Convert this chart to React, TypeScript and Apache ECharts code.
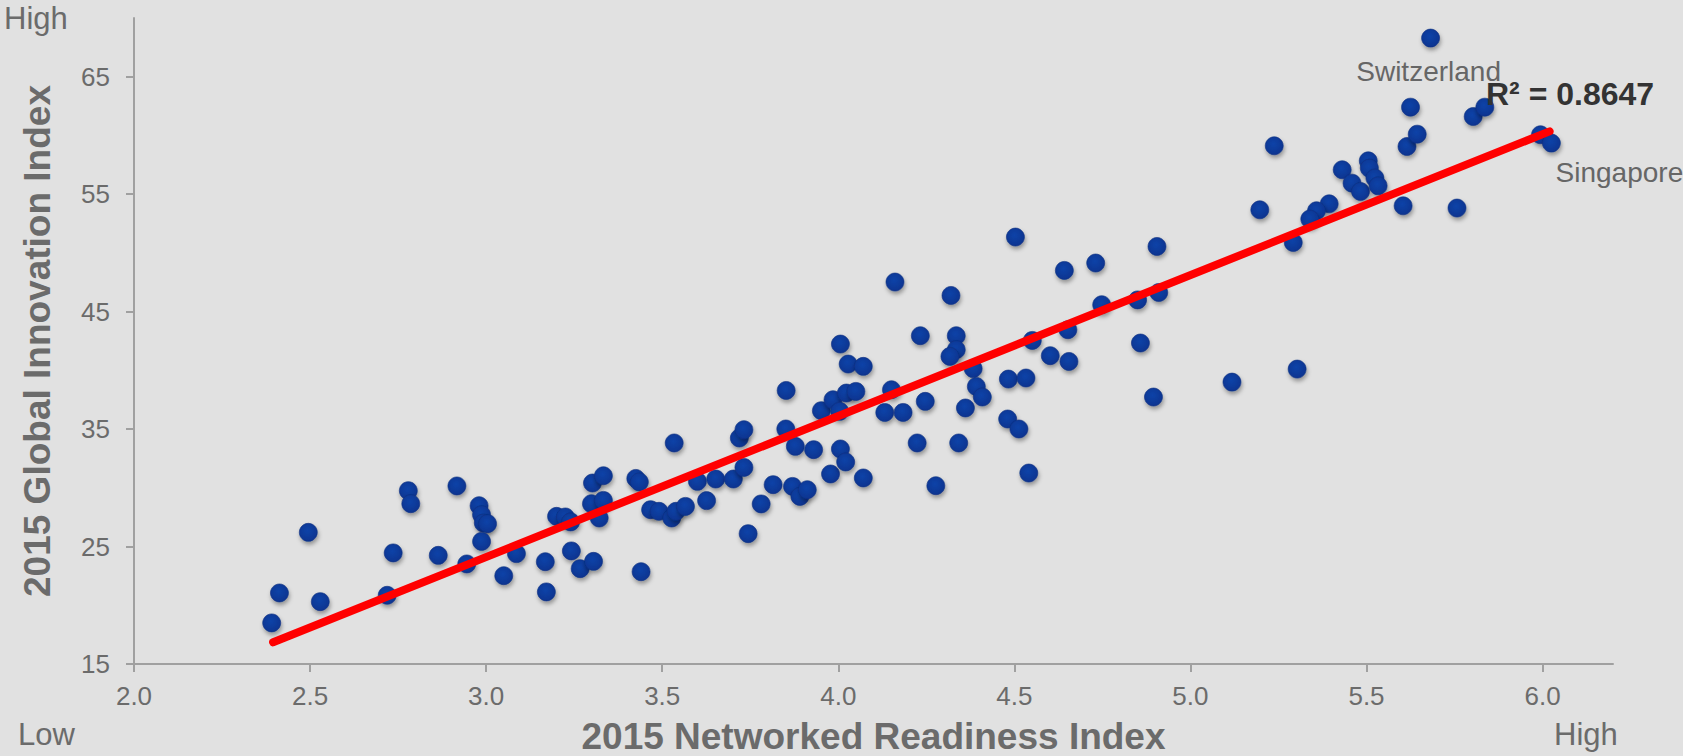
import React, { useEffect, useRef } from "react";
import * as echarts from "echarts";

// 2015 Networked Readiness Index (x) and 2015 Global Innovation Index (y)
const nriValues: number[] = [
  2.391, 2.413, 2.495, 2.529, 2.719, 2.736, 2.779, 2.786, 2.864, 2.917,
  2.945, 2.98, 2.987, 2.992, 3.004, 2.987, 3.05, 3.086, 3.168, 3.171,
  3.2, 3.225, 3.24, 3.242, 3.267, 3.305, 3.302, 3.333, 3.299, 3.333,
  3.321, 3.425, 3.435, 3.44, 3.534, 3.467, 3.491, 3.527, 3.539, 3.566,
  3.6, 3.626, 3.652, 3.702, 3.719, 3.732, 3.732, 3.744, 3.781, 3.815,
  3.852, 3.851, 3.878, 3.87, 3.891, 3.912, 3.93, 3.952, 3.978, 3.985,
  4.006, 4.021, 4.006, 4.028, 4.071, 4.023, 4.05, 4.004, 4.071, 4.132,
  4.151, 4.184, 4.233, 4.247, 4.224, 4.277, 4.335, 4.335, 4.317, 4.361,
  4.342, 4.383, 4.392, 4.503, 4.161, 4.32, 4.642, 4.731, 4.748, 4.85,
  4.858, 4.409, 4.551, 4.602, 4.655, 4.652, 4.483, 4.533, 4.481, 4.513,
  4.541, 5.238, 5.197, 5.431, 5.459, 5.483, 5.505, 5.508, 5.524, 5.533,
  5.604, 5.615, 5.644, 5.625, 5.394, 5.358, 5.339, 5.292, 4.905, 4.91,
  4.895, 5.118, 5.303, 5.682, 5.803, 5.836, 5.994, 6.025, 5.757,
];
const giiValues: number[] = [
  18.5, 21.05, 26.21, 20.31, 20.85, 24.46, 29.76, 28.65, 24.25, 30.16,
  23.52, 28.48, 27.71, 27.0, 26.95, 25.44, 22.52, 24.4, 23.71, 21.14,
  27.57, 27.52, 27.1, 24.63, 23.12, 23.74, 30.41, 31.03, 28.65, 28.93,
  27.43, 30.8, 30.5, 22.86, 33.82, 28.14, 28.0, 27.43, 28.0, 28.42,
  30.55, 28.91, 30.75, 30.75, 34.24, 34.95, 31.74, 26.1, 28.63, 30.27,
  38.29, 35.01, 33.53, 30.12, 29.27, 29.84, 33.25, 36.57, 31.18, 37.5,
  33.31, 32.2, 42.24, 40.54, 40.34, 38.07, 38.21, 36.51, 30.84, 36.42,
  38.35, 36.42, 42.95, 37.36, 33.82, 30.18, 42.95, 41.76, 41.19, 36.8,
  33.82, 40.15, 38.63, 51.35, 47.52, 46.38, 48.51, 49.14, 45.59, 46.0,
  42.33, 37.73, 42.55, 41.25, 40.76, 43.46, 39.26, 39.35, 35.86, 35.01,
  31.26, 59.12, 53.67, 57.08, 55.94, 55.23, 57.84, 57.22, 56.37, 55.71,
  54.01, 59.06, 60.11, 62.41, 54.18, 53.59, 52.88, 50.89, 50.55, 46.63,
  37.73, 39.0, 40.11, 68.29, 61.61, 62.41, 60.06, 59.35, 53.82,
];
// named points: index into the arrays above
const namedIndex: number[] = [123, 127];
const namedLabels: string[] = ["Switzerland", "Singapore"];

// linear trend line end points
const trendX: number[] = [2.395, 6.02];
const trendY: number[] = [16.85, 60.35];
const rSquaredText = "R\u00b2 = 0.8647";

const xTicks: number[] = [2.0, 2.5, 3.0, 3.5, 4.0, 4.5, 5.0, 5.5, 6.0];
const yTicks: number[] = [15, 25, 35, 45, 55, 65];

const FONT = "'Liberation Sans', Arial, Helvetica, sans-serif";
const GREY = "#6b6b6b";

export default function App() {
  const ref = useRef<HTMLDivElement>(null);

  useEffect(() => {
    document.body.style.margin = "0";
    if (!ref.current) return;
    const chart = echarts.init(ref.current, null, { renderer: "svg" });

    const labelOffsets: Record<string, number[]> = {
      Switzerland: [-2, 33],
      Singapore: [68, 29],
    };

    const scatterData = nriValues.map((x, i) => {
      const k = namedIndex.indexOf(i);
      if (k < 0) return [x, giiValues[i]];
      const name = namedLabels[k];
      return {
        value: [x, giiValues[i]],
        name,
        label: {
          show: true,
          formatter: name,
          position: "inside",
          offset: labelOffsets[name],
          fontSize: 28,
          color: "#666666",
          fontFamily: FONT,
        },
      };
    });

    const option: any = {
      animation: false,
      backgroundColor: "#e1e1e1",
      textStyle: { fontFamily: FONT },
      grid: {
        left: 134,
        top: 18,
        right: 70,
        bottom: 92,
        containLabel: false,
        outerBoundsMode: "none",
      },
      xAxis: {
        type: "value",
        min: 2,
        max: 6.2,
        interval: 0.5,
        name: "2015 Networked Readiness Index",
        nameLocation: "middle",
        nameGap: 54,
        nameTextStyle: { fontSize: 37, fontWeight: "bold", color: GREY, fontFamily: FONT },
        axisLine: { show: true, lineStyle: { color: "#a0a0a0", width: 2 } },
        axisTick: { show: true, length: 8, lineStyle: { color: "#a0a0a0", width: 2 }, customValues: xTicks },
        axisLabel: {
          customValues: xTicks,
          formatter: (v: number) => v.toFixed(1),
          fontSize: 26,
          color: GREY,
          margin: 19,
          fontFamily: FONT,
        },
        splitLine: { show: false },
      },
      yAxis: {
        type: "value",
        min: 15,
        max: 70,
        name: "2015 Global Innovation Index",
        nameLocation: "middle",
        nameGap: 78,
        nameTextStyle: { fontSize: 37, fontWeight: "bold", color: GREY, fontFamily: FONT },
        axisLine: { show: true, lineStyle: { color: "#a0a0a0", width: 2 } },
        axisTick: { show: true, length: 8, lineStyle: { color: "#a0a0a0", width: 2 }, customValues: yTicks },
        axisLabel: {
          customValues: yTicks,
          fontSize: 26,
          color: GREY,
          margin: 24,
          fontFamily: FONT,
        },
        splitLine: { show: false },
      },
      series: [
        {
          type: "scatter",
          data: scatterData,
          symbolSize: 18,
          itemStyle: {
            opacity: 1,
            color: {
              type: "radial",
              x: 0.45,
              y: 0.4,
              r: 0.6,
              colorStops: [
                { offset: 0, color: "#0f43a8" },
                { offset: 1, color: "#0a3490" },
              ],
            },
            borderColor: "#0a2f80",
            borderWidth: 0.6,
            shadowColor: "rgba(0,0,0,0.35)",
            shadowBlur: 4,
            shadowOffsetX: 1,
            shadowOffsetY: 3,
          },
          z: 2,
        },
        {
          type: "line",
          data: trendX.map((x, i) => [x, trendY[i]]),
          symbol: "none",
          lineStyle: { color: "#ff0000", width: 8, cap: "round" },
          z: 3,
        },
      ],
      graphic: [
        {
          type: "text",
          x: 4,
          y: 18,
          style: { text: "High", fontSize: 31, fill: GREY, fontFamily: FONT, align: "left", verticalAlign: "middle" },
        },
        {
          type: "text",
          x: 18,
          y: 734,
          style: { text: "Low", fontSize: 31, fill: GREY, fontFamily: FONT, align: "left", verticalAlign: "middle" },
        },
        {
          type: "text",
          x: 1554,
          y: 734,
          style: { text: "High", fontSize: 31, fill: GREY, fontFamily: FONT, align: "left", verticalAlign: "middle" },
        },
        {
          type: "text",
          x: 1486,
          y: 94,
          z: 10,
          style: {
            text: rSquaredText,
            fontSize: 32,
            fontWeight: "bold",
            fill: "#333333",
            fontFamily: FONT,
            align: "left",
            verticalAlign: "middle",
          },
        },
      ],
    };

    chart.setOption(option);
    return () => chart.dispose();
  }, []);

  return <div ref={ref} style={{ width: 1683, height: 756, background: "#e1e1e1" }} />;
}
